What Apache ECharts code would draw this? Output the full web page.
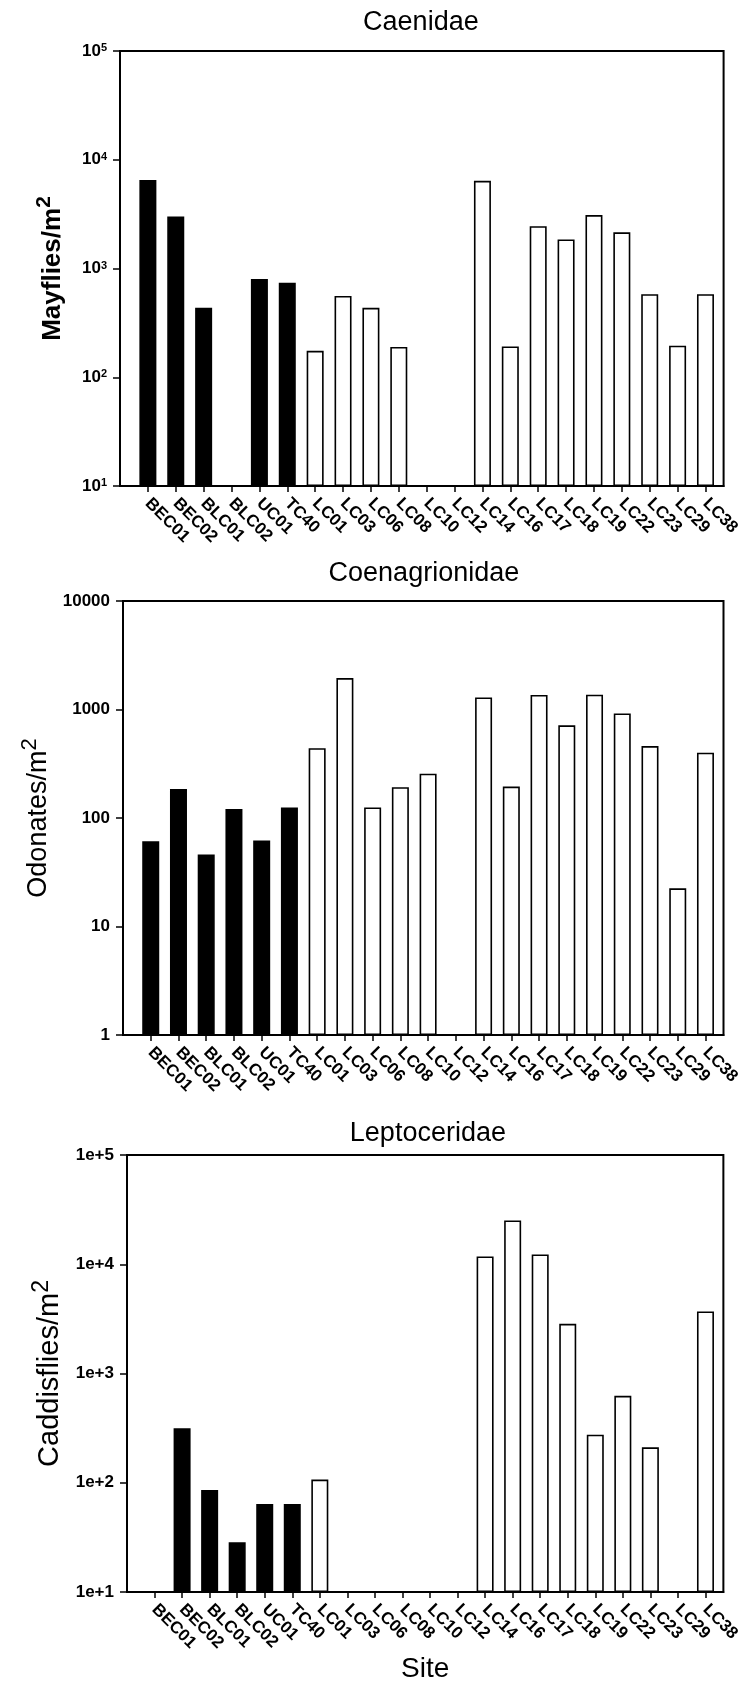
<!DOCTYPE html>
<html>
<head>
<meta charset="utf-8">
<script src="https://cdn.jsdelivr.net/npm/echarts@6/dist/echarts.min.js"></script>
<style>
  html, body { margin: 0; padding: 0; background: #ffffff; }
  #chart { width: 743px; height: 1684px; }
</style>
</head>
<body>
<div id="chart"></div>
<script>
// Sampling sites along the x axis
const sites = ['BEC01', 'BEC02', 'BLC01', 'BLC02', 'UC01', 'TC40', 'LC01', 'LC03', 'LC06', 'LC08',
  'LC10', 'LC12', 'LC14', 'LC16', 'LC17', 'LC18', 'LC19', 'LC22', 'LC23', 'LC29', 'LC38'];
// The first six sites are drawn as solid black bars
const solidSiteCount = 6;

// Densities per square metre (0 = none found)
const mayflies = [6500, 3000, 435, 0, 800, 740, 175, 560, 435, 190, 0, 0, 6400, 192, 2450, 1850, 3100, 2150, 580, 195, 580];
const odonates = [61, 185, 46, 121, 62, 125, 440, 1950, 125, 192, 256, 0, 1290, 195, 1360, 715, 1370, 920, 460, 22.5, 400];
const caddisflies = [0, 315, 86, 28.5, 64, 64, 107, 0, 0, 0, 0, 0, 11800, 25200, 12300, 2850, 275, 625, 211, 0, 3700];

// Panel titles and y-axis tick labels
const titles = ['Caenidae', 'Coenagrionidae', 'Leptoceridae'];
const yNames = ['Mayflies/m', 'Odonates/m', 'Caddisflies/m'];
const yTicks1 = ['10{s|1}', '10{s|2}', '10{s|3}', '10{s|4}', '10{s|5}'];
const yTicks2 = ['1', '10', '100', '1000', '10000'];
const yTicks3 = ['1e+1', '1e+2', '1e+3', '1e+4', '1e+5'];

const FONT = "'Liberation Sans', Arial, Helvetica, sans-serif";

const panels = [
  { values: mayflies, ticks: yTicks1, min: 10, max: 100000, left: 120, top: 51, height: 435, nameGap: 54, nameBold: true, nameSize: 26 },
  { values: odonates, ticks: yTicks2, min: 1, max: 10000, left: 123, top: 601, height: 434, nameGap: 66, nameBold: false, nameSize: 27 },
  { values: caddisflies, ticks: yTicks3, min: 10, max: 100000, left: 127, top: 1155, height: 437, nameGap: 59, nameBold: false, nameSize: 29 }
];
const titleY = [23, 574, 1134];

const siteIdx = sites.map((_, i) => i);
const X_MIN = -1, X_MAX = 20.65, STEP = 28.35;

const grids = [], xAxes = [], yAxes = [], series = [], graphics = [];

panels.forEach((p, k) => {
  const width = (X_MAX - X_MIN) * STEP;
  grids.push({
    left: p.left, top: p.top, width: width, height: p.height,
    show: true, borderColor: '#000', borderWidth: 2, backgroundColor: 'transparent'
  });
  const logMin = Math.log10(p.min);
  xAxes.push({
    type: 'value', gridIndex: k, min: X_MIN, max: X_MAX,
    axisLine: { show: true, onZero: false, lineStyle: { color: '#000', width: 2 } },
    axisTick: { show: true, length: 6, customValues: siteIdx, lineStyle: { color: '#000', width: 1.5 } },
    axisLabel: {
      customValues: siteIdx, rotate: -45, margin: 15,
      fontFamily: FONT, fontWeight: 'bold', fontSize: 17, color: '#000',
      formatter: v => sites[Math.round(v)] || ''
    },
    splitLine: { show: false },
    name: k === 2 ? 'Site' : '', nameLocation: 'middle', nameGap: 50,
    nameTextStyle: { fontFamily: FONT, fontSize: 28, color: '#000' }
  });
  yAxes.push({
    type: 'log', logBase: 10, gridIndex: k, min: p.min, max: p.max, startValue: p.min,
    axisLine: { show: true, onZero: false, lineStyle: { color: '#000', width: 2 } },
    axisTick: { show: true, length: 7, lineStyle: { color: '#000', width: 1.5 } },
    minorTick: { show: false },
    splitLine: { show: false },
    axisLabel: {
      margin: 13, fontFamily: FONT, fontWeight: 'bold', fontSize: 17, color: '#000',
      formatter: v => p.ticks[Math.round(Math.log10(v) - logMin)] || '',
      rich: { s: { fontFamily: FONT, fontSize: 11, fontWeight: 'bold', verticalAlign: 'top', color: '#000' } }
    },
    name: '{n|' + yNames[k] + '}{s|2}', nameLocation: 'middle', nameGap: p.nameGap, nameRotate: 90,
    nameTextStyle: {
      color: '#000',
      rich: {
        n: { fontFamily: FONT, fontSize: p.nameSize, lineHeight: p.nameSize + 6, verticalAlign: 'bottom', fontWeight: p.nameBold ? 'bold' : 'normal', color: '#000' },
        s: { fontFamily: FONT, fontSize: Math.round(p.nameSize * 0.8), verticalAlign: 'top', fontWeight: p.nameBold ? 'bold' : 'normal', color: '#000' }
      }
    }
  });
  series.push({
    type: 'bar', xAxisIndex: k, yAxisIndex: k, barWidth: 17, clip: true,
    data: p.values.map((v, i) => [i, v > 0 ? v : '-']),
    itemStyle: {
      borderColor: '#000', borderWidth: 1.6,
      color: params => params.dataIndex < solidSiteCount ? '#000' : '#fff'
    },
    emphasis: { disabled: true },
    animation: false
  });
  graphics.push({
    type: 'text', x: p.left + width / 2 - 6, y: titleY[k],
    style: { text: titles[k], font: '27px ' + FONT, fill: '#000', textAlign: 'center', textVerticalAlign: 'middle' }
  });
});

const chart = echarts.init(document.getElementById('chart'), null, { renderer: 'canvas' });
chart.setOption({
  animation: false,
  backgroundColor: '#fff',
  grid: grids,
  xAxis: xAxes,
  yAxis: yAxes,
  series: series,
  graphic: graphics
});
</script>
</body>
</html>
